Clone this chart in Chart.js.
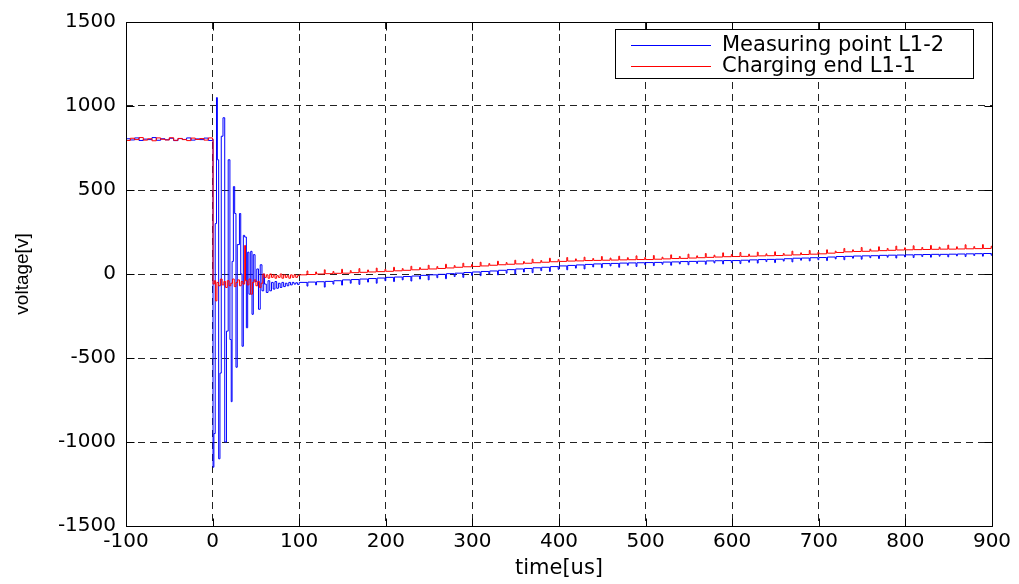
<!DOCTYPE html>
<html><head><meta charset="utf-8">
<script src="https://cdn.jsdelivr.net/npm/chart.js@4.4.1/dist/chart.umd.min.js"></script>
<style>html,body{margin:0;padding:0;background:#fff}canvas{display:block}</style>
</head><body>
<canvas id="c" width="1019" height="584"></canvas>
<script>
// ---- data ----
const seriesNames = ['Measuring point L1-2', 'Charging end L1-1'];
const xTickValues = [-100, 0, 100, 200, 300, 400, 500, 600, 700, 800, 900];
const yTickValues = [-1500, -1000, -500, 0, 500, 1000, 1500];

const tPre = [-100,-95,-90,-85,-80,-75,-70,-65,-60,-55,-50,-45,-40,-35,-30,-25,-20,-15,-10,-5,0];
const vBluePre = [805,798,810,795,803,800,812,796,805,799,808,794,806,801,810,797,804,800,809,795,803];
const vRedPre  = [795,808,800,812,797,805,793,810,802,798,811,796,807,800,794,809,801,806,797,810,800];

const tBlueOsc = [0.5,1.5,3,4.5,5.5,7,8.5,10,12,14,16,18,20,21.5,22.5,24,25.5,27,28.5,31,32.5,34,35.5,37,39,40.5,42,44,45.5,47,49,51,53,55,57,59,
  60,62,64,66,68,70,72,74,76,78,80,82,84,86,88,90,92,94,96,98];
const vBlueOsc = [-1150,-950,300,1050,680,-1100,-590,820,930,-1000,-340,680,-390,-760,75,520,360,-555,175,360,0,-430,230,220,-320,130,-120,135,-240,115,-45,30,-210,55,-100,0,
  -60,-110,-40,-100,-50,-90,-45,-85,-55,-80,-50,-75,-55,-70,-50,-65,-50,-60,-52,-62];

const tRedOsc = [0.5,2,3.5,5,7,9,11,13,15,17,19,21,23,25,27,29,31,33,35,37,38,40,42,44,46,48,50,52,54,56,58,
  60,62,64,66,68,70,72,74,76,78,80,82,84,86,88,90,92,94,96,98];
const vRedOsc = [-60,-40,-160,-50,-70,-30,-65,-45,-80,-40,-70,-55,-30,-75,-50,-35,-70,-45,-60,170,-40,-65,-30,-120,-50,-35,-70,-45,-80,-55,0,
  -20,-5,-25,0,-20,-5,-25,-10,-20,0,-25,-5,-20,-10,-25,-5,-20,-5,-20,-10];

// tail: a held level every 10 us and a 1 us glitch just before the next level
const tTail = [100,109,110,119,120,129,130,139,140,149,150,159,160,169,170,179,180,189,190,199,
  200,209,210,219,220,229,230,239,240,249,250,259,260,269,270,279,280,289,290,299,
  300,309,310,319,320,329,330,339,340,349,350,359,360,369,370,379,380,389,390,399,
  400,409,410,419,420,429,430,439,440,449,450,459,460,469,470,479,480,489,490,499,
  500,509,510,519,520,529,530,539,540,549,550,559,560,569,570,579,580,589,590,599,
  600,609,610,619,620,629,630,639,640,649,650,659,660,669,670,679,680,689,690,699,
  700,709,710,719,720,729,730,739,740,749,750,759,760,769,770,779,780,789,790,799,
  800,809,810,819,820,829,830,839,840,849,850,859,860,869,870,879,880,889,890,899,900];
const vBlueTail = [-50,-72,-48,-65,-46,-78,-44,-60,-40,-66,-35,-55,-33,-62,-30,-48,-27,-55,-24,-40,
  -20,-45,-18,-35,-15,-42,-12,-30,-8,-35,-5,-22,-2,-28,2,-15,5,-20,9,-8,
  12,-10,15,0,18,-5,22,5,26,0,30,12,33,8,37,20,40,15,44,28,
  48,25,51,35,54,30,57,42,60,38,62,48,63,40,65,52,66,45,67,55,
  68,50,69,58,71,52,72,60,74,55,75,63,76,58,78,66,79,60,80,68,
  80,62,82,70,84,65,86,74,87,68,88,77,91,72,94,82,95,78,97,85,
  98,80,101,90,104,85,105,94,107,88,108,97,109,92,111,100,112,95,113,102,
  114,98,115,104,116,100,117,106,117,102,118,108,119,104,120,110,121,106,122,112,124];
const vRedTail = [-5,18,-3,12,0,25,2,15,4,28,5,20,8,32,10,24,12,35,14,28,
  16,40,19,32,22,46,25,38,28,52,30,44,33,58,36,50,40,64,43,56,
  45,70,48,62,52,76,55,68,58,82,60,74,64,88,67,80,70,94,73,86,
  75,98,77,90,78,100,80,92,81,104,82,95,83,106,84,97,85,108,86,98,
  86,110,88,100,90,114,92,104,93,118,95,108,97,122,99,112,101,126,103,116,
  104,128,105,118,106,130,108,120,109,132,110,122,112,136,114,126,116,140,118,130,
  120,144,124,136,128,152,132,144,134,158,135,148,137,162,139,152,141,166,143,156,
  144,168,145,158,146,170,147,160,148,172,148,162,149,174,150,163,151,175,152,165,153];

const seriesColors = ['#0000ff', '#ff0000'];

function pts(ts, vs) { return ts.map((t, i) => ({x: t, y: vs[i]})); }
const blueData = pts(tPre.concat(tBlueOsc, tTail), vBluePre.concat(vBlueOsc, vBlueTail));
const redData  = pts(tPre.concat(tRedOsc, tTail), vRedPre.concat(vRedOsc, vRedTail));

const framePlugin = {
  id: 'frame',
  beforeDraw(chart) {
    const ctx = chart.ctx;
    ctx.save(); ctx.fillStyle = '#fff'; ctx.fillRect(0, 0, chart.width, chart.height); ctx.restore();
  },
  afterDraw(chart) {
    const {ctx, chartArea: a, scales} = chart;
    ctx.save();
    ctx.strokeStyle = '#000'; ctx.lineWidth = 1;
    const L = Math.round(a.left) + 0.5, R = Math.round(a.right) + 0.5;
    const T = Math.round(a.top) + 0.5, B = Math.round(a.bottom) + 0.5;
    ctx.beginPath(); ctx.rect(L, T, R - L, B - T); ctx.stroke();
    const tl = 8;
    ctx.beginPath();
    xTickValues.forEach(v => {
      const x = Math.round(scales.x.getPixelForValue(v)) + 0.5;
      ctx.moveTo(x, B); ctx.lineTo(x, B - tl);
      ctx.moveTo(x, T); ctx.lineTo(x, T + tl);
    });
    yTickValues.forEach(v => {
      const y = Math.round(scales.y.getPixelForValue(v)) + 0.5;
      ctx.moveTo(L, y); ctx.lineTo(L + tl, y);
      ctx.moveTo(R, y); ctx.lineTo(R - tl, y);
    });
    ctx.stroke();
    // legend
    const bx = 615.5, by = 29.5, bw = 358, bh = 49;
    ctx.fillStyle = '#fff'; ctx.fillRect(bx, by, bw, bh);
    ctx.strokeRect(bx, by, bw, bh);
    ctx.font = '21px "DejaVu Sans"';
    ctx.textBaseline = 'middle'; ctx.textAlign = 'left';
    const rows = [45.5, 66.5];
    chart.data.datasets.forEach((ds, i) => {
      ctx.strokeStyle = ds.borderColor;
      ctx.beginPath(); ctx.moveTo(631, rows[i]); ctx.lineTo(711, rows[i]); ctx.stroke();
      ctx.fillStyle = '#000';
      ctx.fillText(ds.label, 722, rows[i]);
    });
    ctx.restore();
  }
};

new Chart(document.getElementById('c'), {
  type: 'line',
  data: {
    datasets: [
      {label: seriesNames[0], data: blueData, borderColor: seriesColors[0], borderWidth: 1, pointRadius: 0, stepped: true, order: 1},
      {label: seriesNames[1], data: redData, borderColor: seriesColors[1], borderWidth: 1, pointRadius: 0, stepped: true, order: 0}
    ]
  },
  options: {
    responsive: false, animation: false, devicePixelRatio: 1,
    layout: {padding: {left: 0, top: 19, right: 27, bottom: 0}},
    plugins: {legend: {display: false}, tooltip: {enabled: false}},
    scales: {
      x: {
        type: 'linear', min: -100, max: 900,
        afterBuildTicks: s => { s.ticks = xTickValues.map(v => ({value: v})); },
        afterFit: s => { s.height = 58; },
        ticks: {font: {family: 'DejaVu Sans', size: 20}, color: '#000', padding: 4, maxRotation: 0, autoSkip: false,
                callback: v => String(v)},
        grid: {color: '#222', lineWidth: 1, drawTicks: false},
        border: {display: false, dash: [7, 5]},
        title: {display: true, text: 'time[us]', color: '#000', font: {family: 'DejaVu Sans', size: 21}, padding: {top: 0, bottom: 3}}
      },
      y: {
        type: 'linear', min: -1500, max: 1500,
        afterBuildTicks: s => { s.ticks = yTickValues.map(v => ({value: v})); },
        afterFit: s => { s.width = 126; },
        ticks: {font: {family: 'DejaVu Sans', size: 20}, color: '#000', padding: 10, callback: v => String(v)},
        grid: {color: '#222', lineWidth: 1, drawTicks: false},
        border: {display: false, dash: [7, 5]},
        title: {display: true, text: 'voltage[v]', color: '#000', font: {family: 'Liberation Sans', size: 19}, padding: {top: 11, bottom: 0}}
      }
    }
  },
  plugins: [framePlugin]
});
</script>
</body></html>
